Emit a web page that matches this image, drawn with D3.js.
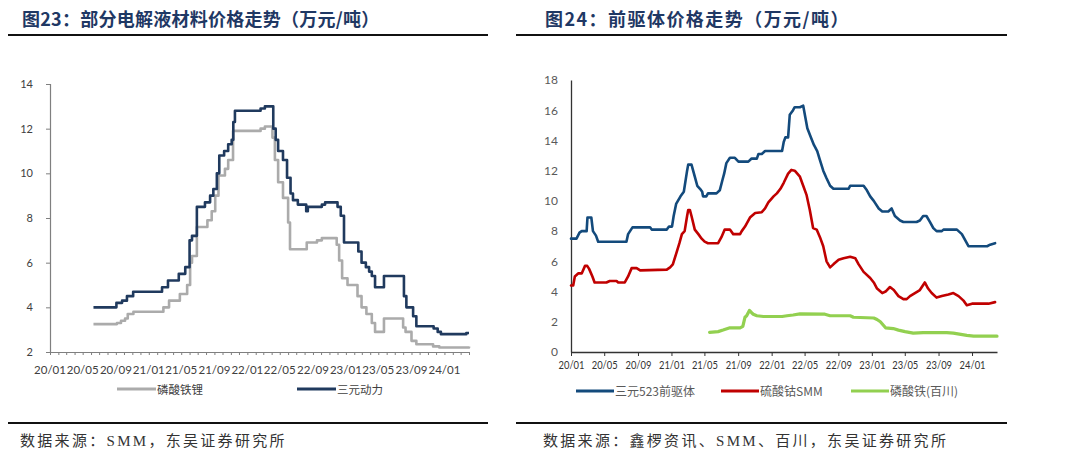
<!DOCTYPE html>
<html><head><meta charset="utf-8">
<script src="https://cdn.jsdelivr.net/npm/d3@7"></script>
<style>body{margin:0;background:#fff}svg{display:block}</style>
</head><body>
<svg id="c" width="1080" height="468"></svg>
<script>
// ---------- DATA ----------
const leftTitle = "图23：部分电解液材料价格走势（万元/吨）";
const rightTitle = "图24：前驱体价格走势（万元/吨）";
const leftSource = "数据来源：SMM，东吴证券研究所";
const rightSource = "数据来源：鑫椤资讯、SMM、百川，东吴证券研究所";
const leftSeriesNames = ["磷酸铁锂", "三元动力"];
const rightSeriesNames = ["三元523前驱体", "硫酸钴SMM", "磷酸铁(百川)"];
const leftYTicks = [2, 4, 6, 8, 10, 12, 14];
const rightYTicks = [0, 2, 4, 6, 8, 10, 12, 14, 16, 18];
const xDomain = ["2020-01-01", "2024-04-01"];

// 磷酸铁锂 (step changes)
const lfp = [["2020-06-10",3.25],["2020-09-05",3.3],["2020-09-20",3.4],["2020-10-05",3.5],["2020-10-15",3.7],["2020-11-05",3.8],
["2021-02-24",4.0],["2021-03-17",4.3],["2021-04-26",4.6],["2021-05-23",5.0],["2021-06-03",6.0],["2021-06-10",6.3],["2021-06-28",7.6],["2021-08-06",7.9],["2021-08-22",8.3],["2021-09-04",9.0],["2021-09-16",9.9],["2021-10-10",10.2],["2021-10-22",10.6],["2021-11-09",11.9],
["2022-02-19",12.0],["2022-03-07",12.1],["2022-04-04",11.6],["2022-04-13",10.6],["2022-04-25",9.6],["2022-05-13",8.9],["2022-06-01",7.8],["2022-06-08",6.6],["2022-08-09",6.9],["2022-09-16",7.0],["2022-10-04",7.1],["2022-11-28",6.8],["2022-12-07",6.1],["2022-12-18",5.3],
["2023-01-07",5.0],["2023-02-13",4.5],["2023-02-28",4.0],["2023-03-18",3.7],["2023-04-07",3.3],["2023-04-19",2.9],["2023-05-22",3.5],["2023-08-01",3.1],["2023-08-10",2.9],["2023-09-01",2.5],["2023-09-19",2.35],["2023-11-20",2.25],["2023-12-13",2.2],
["2024-03-15",2.2],["2024-04-01",2.25]];

// 三元动力 (step changes)
const ncm = [["2020-06-10",4.0],["2020-09-03",4.2],["2020-09-24",4.3],["2020-10-12",4.5],["2020-11-04",4.7],
["2021-02-19",4.9],["2021-03-13",5.2],["2021-04-22",5.5],["2021-05-16",5.8],["2021-06-01",7.0],["2021-06-10",7.2],["2021-06-28",8.5],["2021-07-28",8.7],["2021-08-16",9.0],["2021-08-28",9.3],["2021-09-10",10.0],["2021-09-19",10.8],["2021-10-07",11.0],["2021-10-22",11.3],["2021-11-04",11.5],["2021-11-10",12.3],["2021-11-16",12.8],
["2022-02-19",12.9],["2022-03-07",13.0],["2022-04-07",12.0],["2022-04-16",11.5],["2022-04-25",11.0],["2022-05-13",10.6],["2022-05-28",9.8],["2022-06-10",9.1],["2022-06-19",8.8],["2022-07-07",8.6],["2022-08-07",8.3],["2022-08-13",8.5],["2022-10-04",8.6],["2022-10-16",8.7],["2022-12-01",8.5],["2022-12-13",8.1],["2022-12-25",6.9],
["2023-02-16",6.5],["2023-02-28",6.0],["2023-03-16",5.8],["2023-03-28",5.6],["2023-04-07",5.4],["2023-04-19",4.9],["2023-05-22",5.4],["2023-08-04",4.5],["2023-08-13",4.0],["2023-09-07",3.6],["2023-09-19",3.15],["2023-11-22",3.05],["2023-12-07",2.9],["2023-12-19",2.8],
["2024-03-22",2.85],["2024-04-01",2.85]];

// 三元523前驱体
const pre523 = [["2020-01-01",7.5],["2020-01-21",7.5],["2020-02-01",7.9],["2020-02-09",8.0],["2020-02-27",8.0],["2020-03-01",8.9],["2020-03-15",8.9],["2020-03-21",8.0],["2020-04-01",7.7],["2020-04-09",7.3],["2020-07-21",7.3],["2020-07-27",7.8],["2020-08-12",8.25],["2020-10-15",8.25],["2020-10-21",8.1],["2020-12-15",8.1],["2020-12-23",8.3],
["2021-01-03",8.3],["2021-01-09",9.0],["2021-01-18",9.8],["2021-02-03",10.3],["2021-02-15",10.6],["2021-02-27",12.0],["2021-03-03",12.4],["2021-03-15",12.4],["2021-03-27",11.6],["2021-04-05",11.0],["2021-04-15",10.8],["2021-04-23",10.6],["2021-04-26",10.3],["2021-05-08",10.3],["2021-05-14",10.5],["2021-06-14",10.5],["2021-06-26",10.7],["2021-07-06",11.4],["2021-07-12",11.8],["2021-07-20",12.5],["2021-08-02",12.85],["2021-08-20",12.85],["2021-09-02",12.6],["2021-10-08",12.6],["2021-10-20",12.8],["2021-11-08",12.8],["2021-11-14",13.1],["2021-11-26",13.1],["2021-12-08",13.3],
["2022-02-08",13.3],["2022-02-14",13.9],["2022-02-20",14.2],["2022-03-02",14.2],["2022-03-08",15.7],["2022-03-20",16.0],["2022-03-26",16.2],["2022-04-14",16.2],["2022-04-26",16.3],["2022-05-04",15.5],["2022-05-11",14.8],["2022-05-22",14.3],["2022-06-04",13.7],["2022-06-16",13.3],["2022-06-26",12.7],["2022-07-08",12.0],["2022-07-20",11.5],["2022-08-02",11.0],["2022-08-14",10.8],["2022-10-08",10.8],["2022-10-14",11.0],["2022-12-02",11.0],["2022-12-14",10.7],["2022-12-26",10.3],
["2023-01-08",10.0],["2023-01-26",9.5],["2023-02-08",9.3],["2023-03-02",9.3],["2023-03-14",9.5],["2023-03-26",9.0],["2023-04-14",8.7],["2023-04-26",8.6],["2023-06-13",8.6],["2023-06-25",8.7],["2023-07-07",9.0],["2023-07-19",9.0],["2023-08-01",8.6],["2023-08-13",8.2],["2023-08-25",8.0],["2023-09-13",8.0],["2023-09-19",8.1],["2023-11-07",8.1],["2023-11-25",7.8],["2023-12-07",7.4],["2023-12-19",7.0],
["2024-02-25",7.0],["2024-03-07",7.1],["2024-03-25",7.2]];

// 硫酸钴SMM
const cobalt = [["2020-01-01",4.4],["2020-01-09",4.4],["2020-01-15",5.0],["2020-01-27",5.2],["2020-02-09",5.2],["2020-02-21",5.7],["2020-02-29",5.7],["2020-03-07",5.5],["2020-03-19",5.0],["2020-03-27",4.6],["2020-05-09",4.6],["2020-05-21",4.7],["2020-06-15",4.7],["2020-06-21",4.6],["2020-07-15",4.6],["2020-07-27",5.0],["2020-08-09",5.55],["2020-08-27",5.55],["2020-09-09",5.4],["2020-12-15",5.45],["2020-12-27",5.6],
["2021-01-06",5.8],["2021-01-18",6.5],["2021-01-30",7.2],["2021-02-08",7.8],["2021-02-18",8.0],["2021-02-27",9.0],["2021-03-03",9.4],["2021-03-09",9.4],["2021-03-15",9.0],["2021-03-27",8.1],["2021-04-09",7.8],["2021-04-21",7.5],["2021-05-02",7.3],["2021-05-14",7.2],["2021-06-20",7.2],["2021-07-02",7.6],["2021-07-14",8.1],["2021-08-02",8.1],["2021-08-14",7.8],["2021-09-08",7.8],["2021-09-14",8.0],["2021-09-26",8.3],["2021-10-14",8.9],["2021-11-02",9.2],["2021-11-26",9.25],["2021-12-08",9.5],["2021-12-20",9.9],
["2022-01-08",10.3],["2022-01-20",10.5],["2022-02-02",10.8],["2022-02-14",11.2],["2022-03-02",11.8],["2022-03-14",12.05],["2022-03-26",12.0],["2022-04-14",11.6],["2022-04-26",11.0],["2022-05-08",10.4],["2022-05-20",9.4],["2022-06-01",8.2],["2022-06-14",8.1],["2022-06-26",7.6],["2022-07-08",7.0],["2022-07-20",6.0],["2022-08-02",5.6],["2022-08-14",5.8],["2022-09-02",6.1],["2022-09-20",6.2],["2022-10-14",6.3],["2022-11-02",6.2],["2022-11-14",5.8],["2022-12-02",5.3],["2022-12-26",4.9],
["2023-01-08",4.6],["2023-01-20",4.2],["2023-02-08",3.9],["2023-02-20",4.0],["2023-03-08",4.3],["2023-03-22",4.1],["2023-04-08",3.7],["2023-04-26",3.5],["2023-05-08",3.5],["2023-05-20",3.7],["2023-06-07",3.9],["2023-06-25",4.1],["2023-07-13",4.6],["2023-07-25",4.2],["2023-08-07",3.9],["2023-08-25",3.6],["2023-09-13",3.7],["2023-10-07",3.8],["2023-10-25",3.9],["2023-11-13",3.7],["2023-12-01",3.4],["2023-12-13",3.1],
["2024-01-01",3.2],["2024-03-01",3.2],["2024-03-25",3.3]];

// 磷酸铁(百川)
const ironPhosphate = [["2021-05-20",1.3],["2021-06-20",1.35],["2021-07-08",1.45],["2021-08-02",1.6],["2021-09-08",1.6],["2021-09-18",1.7],["2021-09-26",2.3],["2021-10-02",2.4],["2021-10-12",2.75],["2021-10-20",2.6],["2021-10-26",2.5],["2021-11-08",2.4],["2021-12-02",2.35],
["2022-02-08",2.35],["2022-02-26",2.4],["2022-03-20",2.45],["2022-04-14",2.52],["2022-07-14",2.5],["2022-08-02",2.4],["2022-10-14",2.4],["2022-10-26",2.3],
["2023-01-08",2.25],["2023-01-20",2.15],["2023-02-01",2.0],["2023-02-20",1.6],["2023-03-20",1.55],["2023-04-08",1.45],["2023-05-02",1.35],["2023-06-01",1.25],["2023-07-07",1.28],["2023-10-01",1.28],["2023-10-25",1.25],["2023-12-13",1.1],
["2024-01-07",1.05],["2024-04-01",1.05]];

// ---------- DRAW ----------
const parse = d3.timeParse("%Y-%m-%d");
const fmt = d3.timeFormat("%y/%m");
const svg = d3.select("#c");
svg.append("rect").attr("width",1080).attr("height",468).attr("fill","#fff");

const titleColor = "#1F3864";
const cjk = "'Noto Sans CJK SC','Noto Sans',sans-serif";
const latin = "Lato,'Noto Sans CJK SC',sans-serif";
const serif = "'Liberation Serif','Noto Sans CJK SC',serif";

function header(x, lineX1, lineX2, text, spacing) {
  svg.append("text").attr("x", x).attr("y", 26).attr("font-family", cjk).attr("font-weight", 700)
    .attr("font-size", 18).attr("letter-spacing", spacing).attr("fill", titleColor).text(text);
  svg.append("line").attr("x1", lineX1).attr("x2", lineX2).attr("y1", 35).attr("y2", 35)
    .attr("stroke", "#111").attr("stroke-width", 2);
}
function footer(x, lineX1, lineX2, text) {
  svg.append("line").attr("x1", lineX1).attr("x2", lineX2).attr("y1", 423).attr("y2", 423)
    .attr("stroke", "#111").attr("stroke-width", 2);
  svg.append("text").attr("x", x).attr("y", 446).attr("font-family", serif).attr("font-size", 15)
    .attr("letter-spacing", 2.3).attr("fill", "#333").text(text);
}
header(22, 8, 488, leftTitle, 0.25);
header(545, 516, 1007, rightTitle, 1.45);
footer(20, 8, 488, leftSource);
footer(543, 516, 1007, rightSource);

const dom = xDomain.map(parse);
const quarterTicks = d3.timeMonth.every(4).range(dom[0], d3.timeMonth.offset(dom[1], -2));

// ----- Left chart -----
{
  const x = d3.scaleTime().domain(dom).range([50, 469]);
  const y = d3.scaleLinear().domain([2, 14]).range([352, 84]);
  const g = svg.append("g");
  const axisColor = "#7f7f7f";
  const ya = g.append("g").attr("transform", "translate(50,0)")
    .call(d3.axisLeft(y).tickValues(leftYTicks).tickSize(4).tickPadding(13));
  ya.select(".domain").attr("stroke", axisColor).attr("stroke-width", 1.2);
  ya.selectAll(".tick line").attr("stroke", axisColor);
  ya.selectAll("text").attr("font-family", latin).attr("font-size", 11).attr("fill", "#404040");
  const months = d3.timeMonth.range(dom[0], d3.timeDay.offset(dom[1], 1));
  const xa = g.append("g").attr("transform", "translate(0,352)")
    .call(d3.axisBottom(x).tickValues(months).tickSize(3).tickSizeOuter(0).tickFormat(""));
  xa.select(".domain").attr("stroke", axisColor).attr("stroke-width", 1.2);
  xa.selectAll(".tick line").attr("stroke", axisColor);
  g.append("g").selectAll("text").data(quarterTicks).join("text")
    .attr("x", d => x(d)).attr("y", 374).attr("text-anchor", "middle")
    .attr("font-family", latin).attr("font-size", 11.5).attr("fill", "#404040").text(fmt);

  const line = d3.line().x(d => x(parse(d[0]))).y(d => y(d[1])).curve(d3.curveStepAfter);
  const colors = ["#ABABAB", "#203A5E"];
  [lfp, ncm].forEach((s, i) => {
    g.append("path").datum(s).attr("d", line).attr("fill", "none")
      .attr("stroke", colors[i]).attr("stroke-width", 2.6).attr("stroke-linejoin", "round");
  });
  const lx = [117, 297];
  leftSeriesNames.forEach((n, i) => {
    g.append("line").attr("x1", lx[i]).attr("x2", lx[i] + 39).attr("y1", 389).attr("y2", 389)
      .attr("stroke", colors[i]).attr("stroke-width", 3);
    g.append("text").attr("x", lx[i] + 40).attr("y", 393.5).attr("font-family", cjk)
      .attr("font-size", 11.5).attr("fill", "#404040").text(n);
  });
}

// ----- Right chart -----
{
  const x = d3.scaleTime().domain(dom).range([571, 997]);
  const y = d3.scaleLinear().domain([0, 18]).range([352, 80]);
  const g = svg.append("g");
  const axisColor = "#333";
  const ya = g.append("g").attr("transform", "translate(571,0)")
    .call(d3.axisLeft(y).tickValues(rightYTicks).tickSize(0).tickPadding(13));
  ya.select(".domain").attr("stroke", axisColor).attr("stroke-width", 1.3);
  ya.selectAll("text").attr("font-family", latin).attr("font-size", 12).attr("fill", "#595959");
  const xa = g.append("g").attr("transform", "translate(0,352)")
    .call(d3.axisBottom(x).tickValues(quarterTicks).tickSize(4).tickSizeOuter(0).tickFormat(fmt).tickPadding(4));
  xa.select(".domain").attr("stroke", axisColor).attr("stroke-width", 1.3);
  xa.selectAll(".tick line").attr("stroke", axisColor);
  xa.selectAll("text").attr("font-family", latin).attr("font-size", 12).attr("fill", "#333")
    .attr("textLength", 26).attr("lengthAdjust", "spacingAndGlyphs");

  const line = d3.line().x(d => x(parse(d[0]))).y(d => y(d[1])).curve(d3.curveLinear);
  const colors = ["#134A7C", "#C00000", "#92D050"];
  [pre523, cobalt, ironPhosphate].forEach((s, i) => {
    g.append("path").datum(s).attr("d", line).attr("fill", "none")
      .attr("stroke", colors[i]).attr("stroke-width", i === 2 ? 3.2 : 2.6)
      .attr("stroke-linejoin", "round").attr("stroke-linecap", "round");
  });
  const lx = [576, 721, 851];
  rightSeriesNames.forEach((n, i) => {
    g.append("line").attr("x1", lx[i]).attr("x2", lx[i] + 38).attr("y1", 391).attr("y2", 391)
      .attr("stroke", colors[i]).attr("stroke-width", 3);
    g.append("text").attr("x", lx[i] + 39).attr("y", 395.5).attr("font-family", cjk)
      .attr("font-size", 12).attr("fill", "#595959").text(n);
  });
}
</script>
</body></html>
